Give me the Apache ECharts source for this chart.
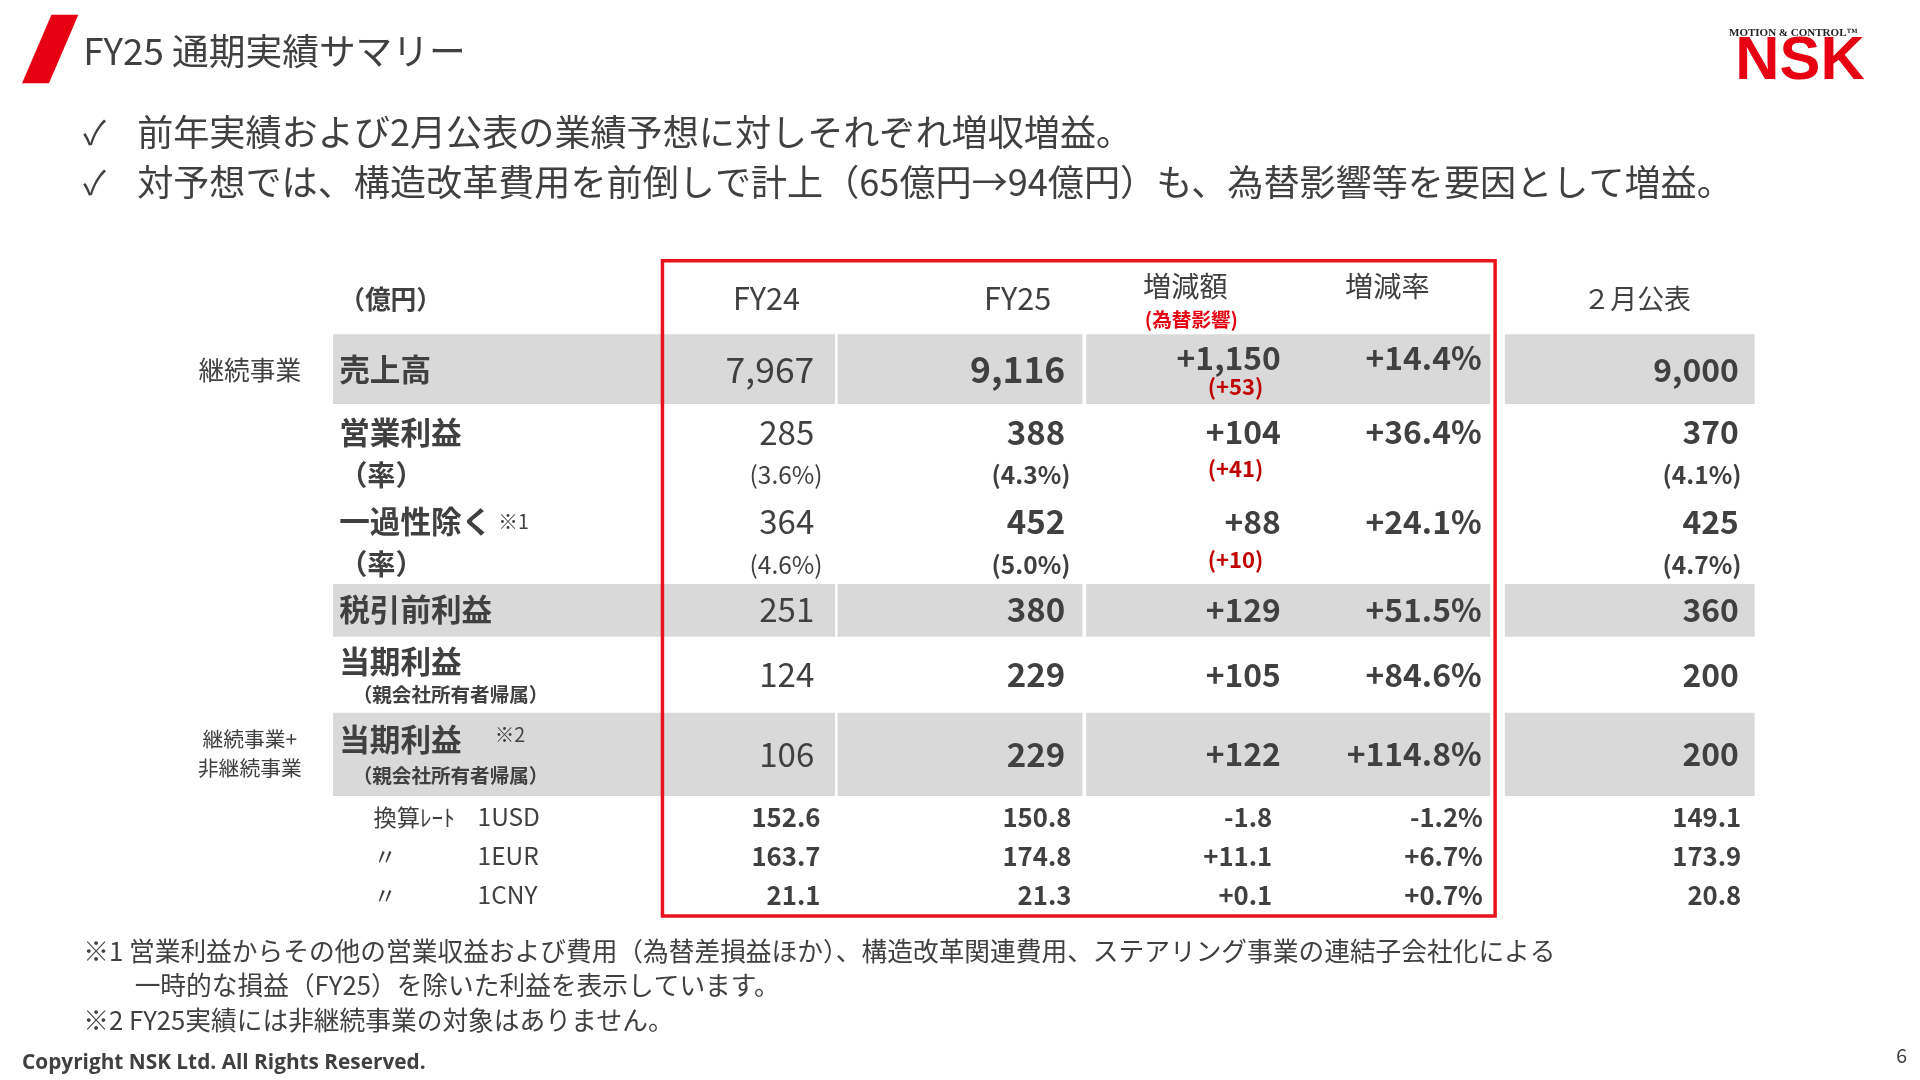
<!DOCTYPE html>
<html><head><meta charset="utf-8">
<script src="https://cdn.jsdelivr.net/npm/echarts@6/dist/echarts.min.js"></script>
<style>html,body{margin:0;padding:0;background:#fff}#c{width:1920px;height:1080px}</style>
</head><body><div id="c"></div>
<script>
const title = 'FY25 通期実績サマリー';
const bullets = ['前年実績および2月公表の業績予想に対しそれぞれ増収増益。','対予想では、構造改革費用を前倒しで計上（65億円→94億円）も、為替影響等を要因として増益。'];
const headers = ['FY24','FY25','増減額','増減率','２月公表'];
const rowLabels = ['売上高','営業利益','一過性除く','税引前利益','当期利益','当期利益'];
const fy24 = ['7,967','285','364','251','124','106'];
const fy25 = ['9,116','388','452','380','229','229'];
const diff = ['+1,150','+104','+88','+129','+105','+122'];
const rate = ['+14.4%','+36.4%','+24.1%','+51.5%','+84.6%','+114.8%'];
const feb = ['9,000','370','425','360','200','200'];
const fxImpact = ['(+53)','(+41)','(+10)'];
const ratioFy24 = ['(3.6%)','(4.6%)'];
const ratioFy25 = ['(4.3%)','(5.0%)'];
const ratioFeb = ['(4.1%)','(4.7%)'];
const fxLabels = ['1USD','1EUR','1CNY'];
const fx24 = ['152.6','163.7','21.1'];
const fx25 = ['150.8','174.8','21.3'];
const fxDiff = ['-1.8','+11.1','+0.1'];
const fxRate = ['-1.2%','+6.7%','+0.7%'];
const fxFeb = ['149.1','173.9','20.8'];
const notes = ['※1 営業利益からその他の営業収益および費用（為替差損益ほか）、構造改革関連費用、ステアリング事業の連結子会社化による','　　一時的な損益（FY25）を除いた利益を表示しています。','※2 FY25実績には非継続事業の対象はありません。'];

const s = 1920/1568;
const F = '"Noto Sans CJK JP","Noto Sans",sans-serif';
const TXT = '#404040', RED = '#e60012', DRED = '#c00000', GRAY = '#d9d9d9';
const g = [];
function t(x,y,str,o={}){
  g.push({type:'text',x:x*s,y:y*s,style:{text:str,fill:o.c||TXT,font:(o.w||'normal')+' '+((o.f||24)*s)+'px '+(o.ff||F),textAlign:o.a||'left',textVerticalAlign:'middle'},z:10});
}
function r(x,y,w,h,fill){g.push({type:'rect',shape:{x:x*s,y:y*s,width:w*s,height:h*s},style:{fill:fill},z:1});}

g.push({type:'polygon',shape:{points:[[18*s,68*s],[42*s,12*s],[64*s,12*s],[40*s,68*s]]},style:{fill:RED}});
t(68,42,title,{f:30});
t(1412,27,'MOTION & CONTROL™',{f:9,w:'bold',c:'#222',ff:'"Liberation Serif",serif'});
t(1470,51,'NSK',{f:50,w:'bold',c:RED,a:'center',ff:'"Liberation Sans",Arial,sans-serif'});
bullets.forEach((b,i)=>{t(68,108+i*41,'✓',{f:27});t(112,108+i*41,b,{f:29.5});});

[[273,57],[477,43],[582,68]].forEach(([y,h])=>{
  r(272,y,268,h,GRAY);r(542,y,140,h,GRAY);r(684,y,200,h,GRAY);r(887,y,330,h,GRAY);r(1229,y,204,h,GRAY);
});
g.push({type:'rect',shape:{x:541*s,y:213*s,width:680*s,height:535*s},style:{fill:'none',stroke:'#e8141c',lineWidth:3.5},z:20});

t(277,244,'（億円）',{f:21,w:'bold'});
t(626,244,headers[0],{f:25,a:'center'});
t(831,244,headers[1],{f:25,a:'center'});
t(968,234,headers[2],{f:23,a:'center'});
t(973,261,'(為替影響)',{f:16,w:'bold',c:RED,a:'center'});
t(1133,234,headers[3],{f:23,a:'center'});
t(1337,244,headers[4],{f:22,a:'center'});

const rowY = [302,353,426,498,551,616];
const labelY = [302,353,426,498,540,604];
const big=[29,27,27,27,27,27];
rowLabels.forEach((l,i)=>{
  t(277,labelY[i],l,{f:25,w:'bold'});
  t(665,rowY[i],fy24[i],{f:big[i],a:'right'});
  t(870,rowY[i],fy25[i],{f:big[i],w:'bold',a:'right'});
  t(1046,i===0?292:rowY[i],diff[i],{f:26,w:'bold',a:'right'});
  t(1210,i===0?292:rowY[i],rate[i],{f:26,w:'bold',a:'right'});
  t(1420,rowY[i],feb[i],{f:26,w:'bold',a:'right'});
});
t(407,426,'※1',{f:16});
t(404,600,'※2',{f:16});
t(288,567,'（親会社所有者帰属）',{f:16,w:'bold'});
t(288,633,'（親会社所有者帰属）',{f:16,w:'bold'});
[1,2].forEach((k,j)=>{
  const y=[388,461][j];
  t(277,y,'（率）',{f:23,w:'bold'});
  t(642,y,ratioFy24[j],{f:20,a:'center'});
  t(842,y,ratioFy25[j],{f:20,w:'bold',a:'center'});
  t(1390,y,ratioFeb[j],{f:20,w:'bold',a:'center'});
});
t(1009,316,fxImpact[0],{f:18,w:'bold',c:DRED,a:'center'});
t(1009,383,fxImpact[1],{f:18,w:'bold',c:DRED,a:'center'});
t(1009,457,fxImpact[2],{f:18,w:'bold',c:DRED,a:'center'});
t(204,302,'継続事業',{f:21,a:'center'});
t(204,604,'継続事業+',{f:17,a:'center'});
t(204,627,'非継続事業',{f:17,a:'center'});

fxLabels.forEach((l,i)=>{
  const y=667+i*32;
  t(305,y,i===0?'換算ﾚｰﾄ':'〃',{f:19});
  t(390,y,l,{f:20});
  t(670,y,fx24[i],{f:21,w:'bold',a:'right'});
  t(875,y,fx25[i],{f:21,w:'bold',a:'right'});
  t(1039,y,fxDiff[i],{f:21,w:'bold',a:'right'});
  t(1211,y,fxRate[i],{f:21,w:'bold',a:'right'});
  t(1422,y,fxFeb[i],{f:21,w:'bold',a:'right'});
});
notes.forEach((n,i)=>t(68,777+i*28,n,{f:21}));
t(18,868,'Copyright NSK Ltd. All Rights Reserved.',{f:17,w:'bold',ff:'"Open Sans","Liberation Sans",sans-serif'});
t(1553,862,'6',{f:16,a:'center'});

const ch = echarts.init(document.getElementById('c'));
ch.setOption({animation:false,graphic:{elements:g}});
</script></body></html>
